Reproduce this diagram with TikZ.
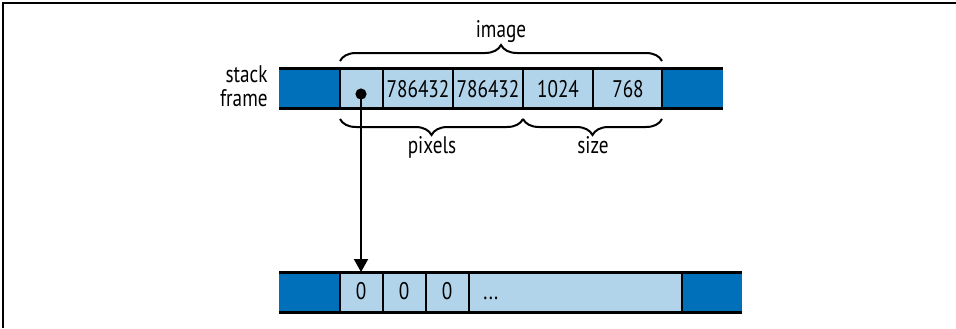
\documentclass[tikz,border=0pt]{standalone}
\usepackage{fontspec}
\setmainfont{PT Sans}[FakeStretch=0.8]
\usetikzlibrary{arrows.meta,decorations.pathreplacing}
\definecolor{slotdark}{RGB}{0,112,186}
\definecolor{slotlight}{RGB}{178,212,234}
\tikzset{
  rule/.style={line width=1.5pt},
  divider/.style={line width=1pt},
  brace/.style={decorate,decoration={brace,amplitude=8pt},line width=1pt},
  val/.style={inner sep=0pt,anchor=base,font=\fontsize{12}{12}\selectfont},
}
\begin{document}
\begin{tikzpicture}[x=0.5pt,y=-0.5pt]
  \useasboundingbox (0,0) rectangle (956,328);
  \draw[line width=0.9pt] (3,328) -- (3,3) -- (956,3);
  % stack frame
  \fill[slotdark] (279,68) rectangle (340,108);
  \fill[slotlight] (340,68) rectangle (662,108);
  \fill[slotdark] (662,68) rectangle (723,108);
  \draw[rule] (279,68) -- (723,68) (279,108) -- (723,108);
  \foreach \x in {340,383,453,523,593,662}
    \draw[divider] (\x,68) -- (\x,108);
  \node[val,align=right,anchor=base east] (frame) at (268,106) {stack\\frame};
  \node[val] (len) at (418,97) {786432};
  \node[val] (cap) at (488,97) {786432};
  \node[val] (width) at (558,97) {1024};
  \node[val] (height) at (628,97) {768};
  % braces
  \draw[brace] (340,61) -- (662,61);
  \draw[brace,decoration={mirror}] (340,119) -- (523,119);
  \draw[brace,decoration={mirror}] (523,119) -- (662,119);
  \node[val] (image) at (501,37) {image};
  \node[val] (pixels) at (432,153) {pixels};
  \node[val] (size) at (593,153) {size};
  % heap buffer
  \fill[slotdark] (279,272) rectangle (340,312);
  \fill[slotlight] (340,272) rectangle (682,312);
  \fill[slotdark] (682,272) rectangle (742,312);
  \draw[rule] (279,272) -- (742,272) (279,312) -- (742,312);
  \foreach \x in {340,383,426,469,682}
    \draw[divider] (\x,272) -- (\x,312);
  \node[val] (zeroa) at (361,299) {0};
  \node[val] (zerob) at (404,299) {0};
  \node[val] (zeroc) at (447,299) {0};
  \node[val,anchor=base west] (rest) at (483,299) {...};
  % pointer
  \coordinate (ptr) at (361,94);
  \coordinate (buf) at (361,272);
  \fill (ptr) circle (2.8pt);
  \draw[line width=1pt,-{Triangle[length=6.5pt,width=7pt]}] (ptr) -- (buf);
\end{tikzpicture}
\end{document}
